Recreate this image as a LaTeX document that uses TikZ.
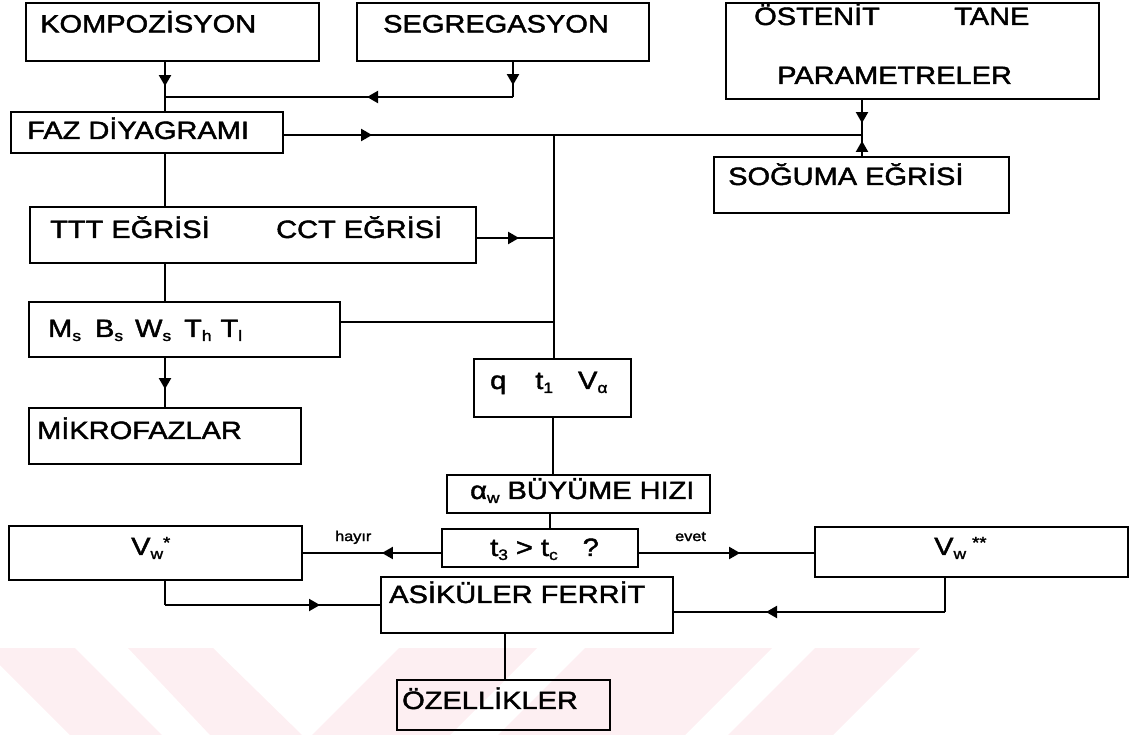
\documentclass[tikz,border=0pt]{standalone}
\usepackage{fontspec}
\setmainfont{Liberation Sans}[FakeStretch=1.16,FakeBold=1.8]
\usetikzlibrary{arrows.meta,decorations.markings}
\definecolor{wm}{RGB}{253,239,242}
\newcommand{\sbs}[1]{\raisebox{-4pt}{\fontsize{15}{15}\selectfont #1}}
\newcommand{\sps}[1]{\raisebox{7pt}{\fontsize{16}{16}\selectfont #1}}
\tikzset{
  box/.style={draw, line width=2.2pt, inner sep=0pt, rectangle},
  ln/.style={line width=2pt},
  txt/.style={inner sep=0pt, anchor=west, font=\fontsize{25}{26}\selectfont, text height=17.9pt, text depth=0pt},
  small/.style={inner sep=0pt, anchor=west, font=\fontsize{14}{15}\selectfont, text height=10pt, text depth=0pt},
  tipat/.style={decoration={markings, mark=at position #1 with {\arrow{Triangle[length=11pt,width=12pt]}}}, postaction={decorate}}
}
\begin{document}
\begin{tikzpicture}[x=1pt,y=-1pt]
\useasboundingbox (0,0) rectangle (1139,735);
% watermark stripes
\fill[wm] (-17,648) -- (75,648) -- (162,735) -- (70,735) -- cycle;
\fill[wm] (128,648) -- (213,648) -- (302,735) -- (210,735) -- cycle;
\fill[wm] (399,648) -- (537,648) -- (450,735) -- (312,735) -- cycle;
\fill[wm] (585,648) -- (772,648) -- (685,735) -- (498,735) -- cycle;
\fill[wm] (815,648) -- (920,648) -- (833,735) -- (728,735) -- cycle;

% boxes
\node[box, minimum width=293pt, minimum height=58pt] (komp) at (172.5,32) {};
\node[box, minimum width=292pt, minimum height=58pt] (seg) at (503,32) {};
\node[box, minimum width=373pt, minimum height=96pt] (ost) at (912.5,51) {};
\node[box, minimum width=272pt, minimum height=41pt] (faz) at (147,132.5) {};
\node[box, minimum width=295pt, minimum height=56pt] (sog) at (861.5,185) {};
\node[box, minimum width=446pt, minimum height=56pt] (ttt) at (253,235) {};
\node[box, minimum width=311pt, minimum height=55pt] (ms) at (184.5,329.5) {};
\node[box, minimum width=272pt, minimum height=56pt] (mik) at (165,436) {};
\node[box, minimum width=157pt, minimum height=58pt] (q) at (552.5,388) {};
\node[box, minimum width=263pt, minimum height=38pt] (buy) at (578.5,494) {};
\node[box, minimum width=196pt, minimum height=38pt] (tt) at (540,548) {};
\node[box, minimum width=293pt, minimum height=54pt] (vw1) at (155.5,553) {};
\node[box, minimum width=313pt, minimum height=50pt] (vw2) at (971.5,552) {};
\node[box, minimum width=292pt, minimum height=56pt] (asik) at (527,605) {};
\node[box, minimum width=213pt, minimum height=50pt] (oz) at (503.5,705) {};

% texts
\node[txt] (tkomp) at (40,23.5) {KOMPOZİSYON};
\node[txt] (tseg) at (383,23.5) {SEGREGASYON};
\node[txt] (tost) at (754,16) {ÖSTENİT};
\node[txt] (ttane) at (954,16) {TANE};
\node[txt] (tpar) at (777,75) {PARAMETRELER};
\node[txt] (tfaz) at (27,130) {FAZ DİYAGRAMI};
\node[txt] (tsog) at (728,176) {SOĞUMA EĞRİSİ};
\node[txt] (tttt) at (50,229) {TTT EĞRİSİ};
\node[txt] (tcct) at (276,229) {CCT EĞRİSİ};
\node[txt] (tms) at (48,328) {M\sbs{s}\hspace{14pt}B\sbs{s}\hspace{12pt}W\sbs{s}\hspace{13pt}T\sbs{h}\hspace{9pt}T\sbs{l}};
\node[txt] (tmik) at (37,430) {MİKROFAZLAR};
\node[txt] (tq) at (490,380) {q\hspace{29pt}t\sbs{1}\hspace{25pt}V\sbs{α}};
\node[txt] (tbuy) at (470,490) {α\sbs{w}\hspace{8pt}BÜYÜME HIZI};
\node[txt] (ttt3) at (490,547) {t\sbs{3} > t\sbs{c}\hspace{25pt}?};
\node[txt] (tvw1) at (131,546) {V\sbs{w}\sps{*}};
\node[txt] (tvw2) at (934,546) {V\sbs{w}\hspace{6pt}\sps{**}};
\node[txt] (tasik) at (389,594) {ASİKÜLER FERRİT};
\node[txt] (toz) at (402,700) {ÖZELLİKLER};
\node[small] (thay) at (335,536) {hayır};
\node[small] (tevet) at (675,536) {evet};

% junctions
\coordinate (jA) at (862,135);
\coordinate (jB) at (554,135);
\coordinate (jS) at (513,97);
\coordinate (jK) at (165,97);
\coordinate (jV1) at (165,605);
\coordinate (jV2) at (945,612);

% connectors
\draw[ln, tipat=24pt] (165,0 |- komp.south) -- (165,0 |- faz.north);
\draw[ln, tipat=23pt] (513,0 |- seg.south) -- (jS);
\draw[ln, tipat=146pt] (jS) -- (jK);
\draw[ln, tipat=88pt] (faz.east |- jA) -- (jA);
\draw[ln, tipat=23pt] (862,0 |- ost.south) -- (jA);
\draw[ln, tipat=15pt] (862,0 |- sog.north) -- (jA);
\draw[ln] (jB) -- (554,0 |- q.north);
\draw[ln] (165,0 |- faz.south) -- (165,0 |- ttt.north);
\draw[ln, tipat=42pt] (ttt.east |- 0,238) -- (554,238);
\draw[ln] (165,0 |- ttt.south) -- (165,0 |- ms.north);
\draw[ln] (ms.east |- 0,322) -- (554,322);
\draw[ln, tipat=31pt] (165,0 |- ms.south) -- (165,0 |- mik.north);
\draw[ln] (553,0 |- q.south) -- (553,0 |- buy.north);
\draw[ln] (550,0 |- buy.south) -- (550,0 |- tt.north);
\draw[ln, tipat=59pt] (tt.west |- 0,553) -- (vw1.east |- 0,553);
\draw[ln, tipat=101pt] (tt.east |- 0,553) -- (vw2.west |- 0,553);
\draw[ln] (165,0 |- vw1.south) -- (jV1);
\draw[ln, tipat=155pt] (jV1) -- (asik.west |- jV1);
\draw[ln] (945,0 |- vw2.south) -- (jV2);
\draw[ln, tipat=179pt] (jV2) -- (asik.east |- jV2);
\draw[ln] (505,0 |- asik.south) -- (505,0 |- oz.north);
\end{tikzpicture}
\end{document}
